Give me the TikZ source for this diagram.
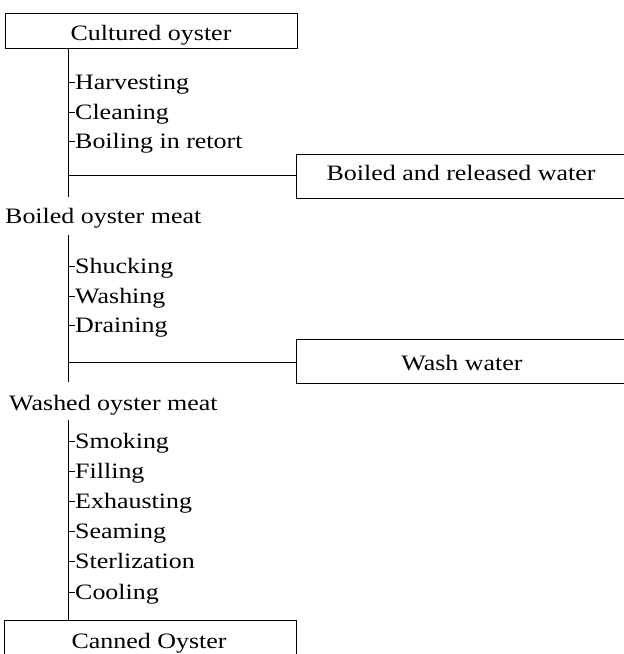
\documentclass[tikz,border=0pt]{standalone}
\usepackage{fontspec}
\setmainfont{Liberation Serif}[FakeStretch=1.18]
\begin{document}
\begin{tikzpicture}[x=1pt,y=-1pt,
  every node/.style={font=\fontsize{22}{26}\selectfont, inner sep=0pt},
  boxnode/.style={draw, line width=0.8pt, rectangle},
  itemtext/.style={anchor=base west},
  lbl/.style={anchor=base},
  ln/.style={line width=0.8pt}]
\useasboundingbox (0,0) rectangle (624,654);

% boxes
\node[boxnode, minimum width=292pt, minimum height=35pt] (cult) at (151,30.5) {};
\node[lbl] (cultT) at (151,40) {Cultured oyster};
\node[boxnode, minimum width=332pt, minimum height=44pt] (boil) at (462,176) {};
\node[lbl] (boilT) at (461,180) {Boiled and released water};
\node[boxnode, minimum width=332pt, minimum height=44pt] (wash) at (462,361) {};
\node[lbl] (washT) at (462,370) {Wash water};
\node[boxnode, minimum width=292pt, minimum height=46pt] (can) at (150,643) {};
\node[lbl] (canT) at (149,648) {Canned Oyster};

% intermediate labels
\node[anchor=base west] (bom) at (5,223) {Boiled oyster meat};
\node[anchor=base west] (wom) at (9,410) {Washed oyster meat};

% trunk coordinates
\coordinate (e1) at (68,197);
\coordinate (b1) at (68,175);
\coordinate (s2) at (68,235);
\coordinate (e2) at (68,382);
\coordinate (b2) at (68,362);
\coordinate (s3) at (68,420);

\draw[ln] (cult.south -| e1) -- (e1);
\draw[ln] (b1) -- (boil.west |- b1);
\draw[ln] (s2) -- (e2);
\draw[ln] (b2) -- (wash.west |- b2);
\draw[ln] (s3) -- (can.north -| s3);

% items
\foreach \t/\y [count=\i] in {Harvesting/89, Cleaning/119, Boiling in retort/148,
  Shucking/273, Washing/303, Draining/332,
  Smoking/448, Filling/478, Exhausting/508, Seaming/538, Sterlization/568, Cooling/599} {
  \node[itemtext] (it\i) at (75,\y) {\t};
  \draw[ln] ([yshift=7pt]it\i.base west) -- ++(-7,0);
}
\end{tikzpicture}
\end{document}
